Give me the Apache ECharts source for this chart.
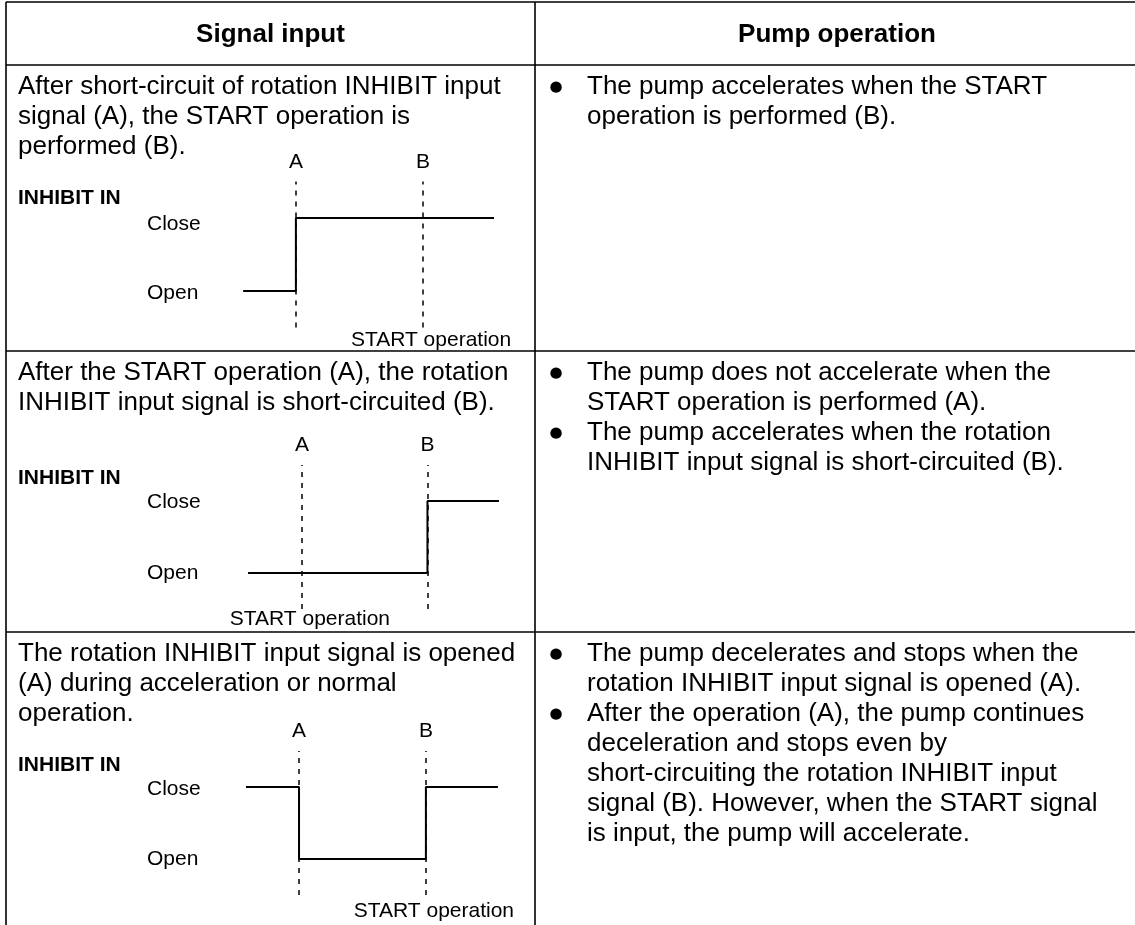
<!DOCTYPE html>
<html><head><meta charset="utf-8">
<script src="https://cdn.jsdelivr.net/npm/echarts@6/dist/echarts.min.js"></script>
<style>html,body{margin:0;padding:0;background:#fff}#c{width:1135px;height:925px}</style>
</head><body><div id="c"></div>
<script>
// ---------- data ----------
const headers = ['Signal input', 'Pump operation'];
const signalTexts = [
  ['After short-circuit of rotation INHIBIT input', 'signal (A), the START operation is', 'performed (B).'],
  ['After the START operation (A), the rotation', 'INHIBIT input signal is short-circuited (B).'],
  ['The rotation INHIBIT input signal is opened', '(A) during acceleration or normal', 'operation.']
];
const pumpTexts = [
  [['The pump accelerates when the START', 'operation is performed (B).']],
  [['The pump does not accelerate when the', 'START operation is performed (A).'],
   ['The pump accelerates when the rotation', 'INHIBIT input signal is short-circuited (B).']],
  [['The pump decelerates and stops when the', 'rotation INHIBIT input signal is opened (A).'],
   ['After the operation (A), the pump continues', 'deceleration and stops even by', 'short-circuiting the rotation INHIBIT input', 'signal (B). However, when the START signal', 'is input, the pump will accelerate.']]
];
const signalName = 'INHIBIT IN';
const levelLabels = ['Open', 'Close'];      // level 0, level 1
const markerNames = ['A', 'B'];
const startLabel = 'START operation';
// time positions of markers A and B (time units 0-100)
const markerTimes = [[21.5, 70.4], [23.8, 72.1], [22.7, 71.5]];
// which marker is the START operation (0 = A, 1 = B)
const startMarker = [1, 0, 1];
// INHIBIT IN signal levels over time
const signal1 = [[1.2, 0], [21.5, 0], [21.5, 1], [97.7, 1]];
const signal2 = [[3.1, 0], [72.1, 0], [72.1, 1], [99.6, 1]];
const signal3 = [[2.3, 1], [22.7, 1], [22.7, 0], [71.5, 0], [71.5, 1], [99.2, 1]];
const signals = [signal1, signal2, signal3];

// ---------- layout ----------
const FONT = '"Liberation Sans", Arial, sans-serif';
const X0 = 6, XDIV = 535, XR = 1139;
const rowLines = [2, 65, 351, 632];
const rowTop = [65, 351, 632];
const gridTops = [181.5, 465, 751];
const gridH = [146, 144, 144];
const nameY = [198, 478, 765];
const startDist = [2, 0, 6];
const closeShift = [12, 2, 4];   // label padding (px) to nudge "Close" down
const openShift = [4, 0, 0];
const LH = 30;

const chart = echarts.init(document.getElementById('c'), null, {renderer: 'canvas'});
const grids = [], xAxes = [], yAxes = [], series = [], graphics = [];

// table lines
const lineStyle = {stroke: '#000', lineWidth: 1.6};
rowLines.forEach(y => graphics.push({type: 'line', shape: {x1: X0, y1: y, x2: XR, y2: y}, style: lineStyle, z: 10}));
[X0, XDIV].forEach(x => graphics.push({type: 'line', shape: {x1: x, y1: rowLines[0], x2: x, y2: 925}, style: lineStyle, z: 10}));

// headers
graphics.push({type: 'text', x: (X0 + XDIV) / 2, y: 35, style: {text: headers[0], font: 'bold 26px ' + FONT, fill: '#000', textAlign: 'center', textVerticalAlign: 'middle'}});
graphics.push({type: 'text', x: (XDIV + XR) / 2, y: 35, style: {text: headers[1], font: 'bold 26px ' + FONT, fill: '#000', textAlign: 'center', textVerticalAlign: 'middle'}});

for (let r = 0; r < 3; r++) {
  const base = rowTop[r] + 22;
  signalTexts[r].forEach((t, i) => graphics.push({type: 'text', x: 18, y: base + i * LH,
    style: {text: t, font: '26px ' + FONT, fill: '#000', textVerticalAlign: 'middle'}}));
  let k = 0;
  pumpTexts[r].forEach(item => {
    graphics.push({type: 'text', x: 556, y: base + k * LH, style: {text: '●', font: '15px "DejaVu Sans"', fill: '#000', textAlign: 'center', textVerticalAlign: 'middle'}});
    item.forEach(t => {
      graphics.push({type: 'text', x: 587, y: base + k * LH, style: {text: t, font: '26px ' + FONT, fill: '#000', textVerticalAlign: 'middle'}});
      k++;
    });
  });
  graphics.push({type: 'text', x: 18, y: nameY[r], style: {text: signalName, font: 'bold 21px ' + FONT, fill: '#000', textVerticalAlign: 'middle'}});

  grids.push({left: 240, width: 260, top: gridTops[r], height: gridH[r], containLabel: false});
  xAxes.push({type: 'value', gridIndex: r, min: 0, max: 100, show: false});
  yAxes.push({type: 'value', gridIndex: r, min: -0.5, max: 1.5, interval: 0.5,
    axisLine: {show: false}, axisTick: {show: false}, splitLine: {show: false},
    axisLabel: {show: true, align: 'left', margin: 93, color: '#000', fontSize: 21, fontFamily: FONT,
      rich: {
        c: {fontSize: 21, fontFamily: FONT, color: '#000', padding: [closeShift[r], 0, 0, 0]},
        o: {fontSize: 21, fontFamily: FONT, color: '#000', padding: [openShift[r], 0, 0, 0]}
      },
      formatter: v => (Math.abs(v) < 1e-9 ? '{o|' + levelLabels[0] + '}' : (Math.abs(v - 1) < 1e-9 ? '{c|' + levelLabels[1] + '}' : ''))}});
  const st = markerTimes[r][startMarker[r]];
  series.push({type: 'line', xAxisIndex: r, yAxisIndex: r, data: signals[r], symbol: 'none',
    lineStyle: {color: '#000', width: 2}, animation: false, silent: true,
    markLine: {silent: true, symbol: 'none', animation: false,
      lineStyle: {color: '#000', width: 1.5, type: [5, 6]},
      label: {show: true, position: 'end', formatter: '{b}', color: '#000', fontSize: 21, fontFamily: FONT, distance: 9},
      data: markerTimes[r].map((t, i) => ({xAxis: t, name: markerNames[i]}))},
    markPoint: {silent: true, animation: false, symbol: 'circle', symbolSize: 0,
      label: {show: true, position: 'bottom', distance: startDist[r], offset: [8, 0], formatter: startLabel, color: '#000', fontSize: 21, fontFamily: FONT},
      data: [{coord: [st, -0.5], value: 0}]}
  });
}

chart.setOption({
  backgroundColor: '#fff',
  animation: false,
  grid: grids, xAxis: xAxes, yAxis: yAxes, series: series,
  graphic: graphics
});
</script></body></html>
